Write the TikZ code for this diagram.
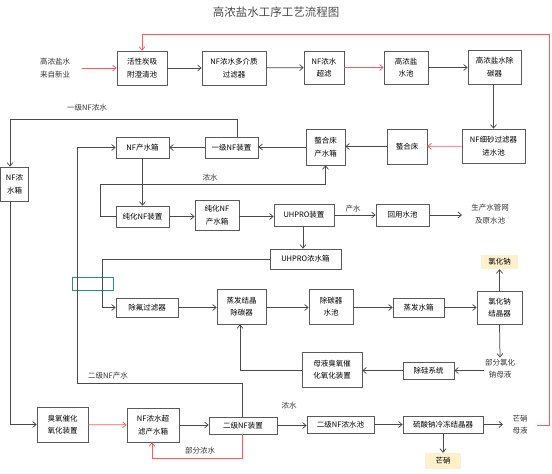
\documentclass[tikz,border=0pt]{standalone}
\usepackage{fontspec}
\setmainfont{Noto Sans CJK SC}
\usetikzlibrary{arrows.meta}
\definecolor{lnc}{HTML}{4A4A4A}
\definecolor{bxc}{HTML}{5A5A5A}
\definecolor{redc}{HTML}{FF5A5A}
\definecolor{yelc}{HTML}{FFF0CC}
\definecolor{grnc}{HTML}{1E9A6A}
\begin{document}
\begin{tikzpicture}[x=1pt,y=-1pt,
  box/.style={draw=bxc,line width=0.7pt,fill=white,inner sep=1pt,align=center,font=\fontsize{7.5}{12.5}\selectfont},
  txt/.style={inner sep=1pt,align=center,font=\fontsize{7.5}{12.5}\selectfont,text=black!80},
  ylw/.style={fill=yelc,inner sep=1pt,align=center,font=\fontsize{7.5}{12.5}\selectfont},
  lbl/.style={inner sep=1pt,font=\fontsize{7.5}{9}\selectfont,text=black!80},
  arr/.style={draw=lnc,line width=0.75pt,-{Straight Barb[length=3.5pt,width=6pt]}},
  rarr/.style={draw=redc,line width=0.75pt,-{Straight Barb[length=3.5pt,width=6pt]}},
  ln/.style={draw=lnc,line width=0.75pt}]
\useasboundingbox (0,0) rectangle (552,474);
\node[inner sep=0pt,font=\fontsize{11.5}{13}\selectfont,text=black!70] (title) at (276,12.5) {高浓盐水工序工艺流程图};
% row 1
\node[txt] (src) at (55,68) {高浓盐水\\来自新业};
\node[box,minimum width=50,minimum height=34] (act) at (142,68) {活性炭吸\\附澄清池};
\node[box,minimum width=64,minimum height=34] (mmf) at (234,68) {NF浓水多介质\\过滤器};
\node[box,minimum width=40,minimum height=33] (uf) at (324,67.5) {NF浓水\\超滤};
\node[box,minimum width=44,minimum height=33] (hsp) at (406,67.5) {高浓盐\\水池};
\node[box,minimum width=53,minimum height=34] (dec) at (494.5,67) {高浓盐水除\\碳器};
% row 2
\node[box,minimum width=63,minimum height=34] (sand) at (493.5,146) {NF细砂过滤器\\进水池};
\node[box,minimum width=40,minimum height=35] (chel) at (407,146.5) {螯合床};
\node[box,minimum width=39,minimum height=36] (chelw) at (325.5,147) {螯合床\\产水箱};
\node[box,minimum width=53,minimum height=21] (nf1) at (231.5,147.5) {一级NF装置};
\node[box,minimum width=53,minimum height=21] (nfw) at (142.5,147.5) {NF产水箱};
\node[box,minimum width=28,minimum height=34] (nfc) at (14.5,184) {NF浓\\水箱};
% row 3
\node[box,minimum width=53,minimum height=21] (pnf) at (142.5,216.5) {纯化NF装置};
\node[box,minimum width=44,minimum height=30] (pnfw) at (217,215) {纯化NF\\产水箱};
\node[box,minimum width=60,minimum height=22] (uhpro) at (304,215) {UHPRO装置};
\node[box,minimum width=53,minimum height=22] (reuse) at (402.5,215) {回用水池};
\node[txt] (net) at (490,214) {生产水管网\\及原水池};
\node[box,minimum width=71,minimum height=20] (uhc) at (305.5,259) {UHPRO浓水箱};
% row 4
\node[box,minimum width=62,minimum height=19] (dfl) at (147,307.5) {除氟过滤器};
\node[box,minimum width=49,minimum height=35] (evd) at (241.5,306.5) {蒸发结晶\\除碳器};
\node[box,minimum width=44,minimum height=35] (dcp) at (331,306.5) {除碳器\\水池};
\node[box,minimum width=51,minimum height=19] (evt) at (418.5,307.5) {蒸发水箱};
\node[box,minimum width=45,minimum height=33] (nacl) at (499.5,307.5) {氯化钠\\结晶器};
\node[ylw,minimum width=37,minimum height=14] (naclp) at (499.5,262) {氯化钠};
\node[txt] (ml) at (500,368.5) {部分氯化\\钠母液};
\node[box,minimum width=51,minimum height=17] (si) at (428.5,370.5) {除硅系统};
\node[box,minimum width=60,minimum height=35] (mo) at (332,369.5) {母液臭氧催\\化氧化装置};
% row 5
\node[box,minimum width=51,minimum height=35] (oz) at (62.5,424.5) {臭氧催化\\氧化装置};
\node[box,minimum width=52,minimum height=34] (ufw) at (153,425) {NF浓水超\\滤产水箱};
\node[box,minimum width=68,minimum height=17] (nf2) at (243,425.5) {二级NF装置};
\node[box,minimum width=67,minimum height=17] (nf2c) at (340.5,424.5) {二级NF浓水池};
\node[box,minimum width=80,minimum height=17] (sfc) at (443,424.5) {硫酸钠冷冻结晶器};
\node[txt] (mx) at (520,424.5) {芒硝\\母液};
\node[ylw,minimum width=36,minimum height=16] (mxp) at (443,461) {芒硝};
% labels
\node[lbl] (l1) at (87,107.5) {一级NF浓水};
\node[lbl] (l2) at (210,178) {浓水};
\node[lbl] (l3) at (353,209) {产水};
\node[lbl] (l4) at (108,376) {二级NF产水};
\node[lbl] (l5) at (200,451) {部分浓水};
\node[lbl] (l6) at (289,406) {浓水};
% green selection rectangle
\draw[draw=grnc,line width=1pt] (72,277) rectangle (113,290);
% connectors row 1
\draw[rarr] (82,68) -- (act.west);
\draw[arr] (act) -- (mmf);
\draw[arr] (mmf) -- (uf);
\draw[rarr] (uf) -- (hsp);
\draw[arr] (hsp.east) -- (hsp.east -| dec.west);
\draw[arr] (dec.south -| sand.north) -- (sand.north);
% row 2
\draw[rarr] (sand) -- (chel);
\draw[arr] (chel.west) -- (chel.west -| chelw.east);
\draw[arr] (chelw.west) -- (chelw.west -| nf1.east);
\draw[arr] (nf1) -- (nfw);
\coordinate (c1) at (237,119);
\coordinate (c2) at (10,119);
\draw[arr] (nf1.north -| c1) -- (c1) -- (c2) -- (c2 |- nfc.north);
\draw[arr] (nfw) -- (pnf);
\coordinate (c3) at (100,184);
\draw[arr] (pnf.west) -| (c3) -| (chelw.south);
\draw[arr] (pnf.east) -- (pnf.east -| pnfw.west);
\draw[arr] (pnf.east -| pnfw.east) -- (pnf.east -| uhpro.west);
\draw[arr] (uhpro) -- (reuse);
\draw[arr] (reuse.east) -- (462,215);
\draw[arr] (uhpro.south -| 303,0) -- (uhc.north -| 303,0);
\coordinate (c4) at (102,259);
\draw[arr] (uhc.west) -- (c4) |- (dfl.west);
% row 4
\draw[arr] (dfl.east) -- (dfl.east -| evd.west);
\draw[arr] (dfl.east -| evd.east) -- (dfl.east -| dcp.west);
\draw[arr] (dfl.east -| dcp.east) -- (evt.west);
\draw[arr] (evt.east) -- (evt.east -| nacl.west);
\draw[arr] (nacl.north) -- (naclp.south);
\draw[arr] (nacl.south) -- (ml.north);
\draw[arr] (ml.west |- si.east) -- (si.east);
\draw[arr] (si.west) -- (si.west -| mo.east);
\coordinate (c5) at (240,370.5);
\draw[arr] (mo.west |- c5) -- (c5) -- (c5 |- evd.south);
% row 5
\coordinate (c6) at (10,424.5);
\draw[arr] (c2 |- nfc.south) -- (c6) -- (oz.west);
\draw[rarr] (oz) -- (ufw);
\draw[arr] (ufw.east) -- (ufw.east -| nf2.west);
\coordinate (c7) at (242,383);
\coordinate (c8) at (77,383);
\draw[arr] (nf2.north -| c7) -- (c7) -- (c8) |- (nfw.west);
\coordinate (c9) at (242,458);
\coordinate (c10) at (152,458);
\draw[rarr] (nf2.south -| c9) -- (c9) -- (c10) -- (c10 |- ufw.south);
\draw[arr] (nf2.east) -- (nf2.east -| nf2c.west);
\draw[arr] (nf2c) -- (sfc);
\draw[arr] (sfc.east) -- (503,424.5);
\draw[arr] (sfc.south) -- (mxp.north);
% red return line
\coordinate (r1) at (549,425);
\coordinate (r2) at (549,34);
\coordinate (r3) at (142,34);
\draw[rarr] (537,425) -- (r1) -- (r2) -- (r3) -- (act.north);
\end{tikzpicture}
\end{document}
